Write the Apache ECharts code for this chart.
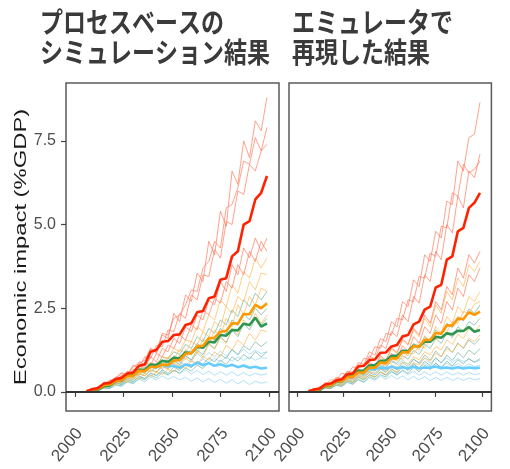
<!DOCTYPE html>
<html><head><meta charset="utf-8">
<script src="https://cdn.jsdelivr.net/npm/echarts@6/dist/echarts.min.js"></script>
<style>html,body{margin:0;padding:0;background:#fff}#c{width:510px;height:469px}</style>
</head><body><div id="c"></div>
<script>
// ---- data ----
const years = [2006,2009,2012,2015,2018,2021,2024,2027,2030,2033,2036,2039,2042,2045,2048,2051,2054,2057,2060,2063,2066,2069,2072,2075,2078,2081,2084,2087,2090,2093,2096,2099];
const xTicks = [2000, 2025, 2050, 2075, 2100];
const yTicks = [0, 2.5, 5, 7.5];
const titleSim = ['プロセスベースの', 'シミュレーション結果'];
const titleEmu = ['エミュレータで', '再現した結果'];
const yAxisTitle = 'Economic impact (%GDP)';

// Process-based simulation (left panel)
const simRed    = [0.02,0.08,0.12,0.25,0.27,0.38,0.42,0.55,0.58,0.78,0.82,1.2,1.25,1.5,1.52,1.7,1.72,2.0,2.05,2.38,2.42,2.8,2.85,3.35,3.4,4.05,4.2,5.0,5.1,5.75,5.95,6.45];
const simOrange = [0.02,0.07,0.09,0.2,0.22,0.33,0.35,0.48,0.48,0.63,0.62,0.75,0.74,0.82,0.8,0.94,0.95,1.14,1.16,1.36,1.38,1.6,1.62,1.8,1.82,2.05,2.04,2.33,2.32,2.6,2.5,2.65];
const simGreen  = [0.01,0.05,0.07,0.17,0.19,0.33,0.34,0.5,0.5,0.66,0.66,0.82,0.8,0.93,0.9,1.02,1.0,1.18,1.16,1.34,1.32,1.5,1.48,1.7,1.68,1.85,1.84,2.04,2.0,2.22,1.95,2.05];
const simBlue   = [0.01,0.05,0.07,0.18,0.2,0.34,0.35,0.5,0.5,0.65,0.64,0.76,0.74,0.82,0.76,0.78,0.72,0.82,0.78,0.87,0.8,0.86,0.78,0.83,0.76,0.81,0.74,0.79,0.72,0.75,0.7,0.72];
const simRedEns = [
  [0.03,0.12,0.1,0.3,0.25,0.45,0.42,0.62,0.55,0.9,0.82,1.3,1.15,1.7,1.6,2.35,2.1,2.9,2.7,3.55,3.3,4.5,4.1,5.4,4.95,6.6,6.2,7.5,7.0,8.1,7.8,8.8],
  [0.02,0.06,0.16,0.22,0.35,0.4,0.55,0.5,0.75,0.85,0.95,1.3,1.2,1.75,1.7,2.2,2.3,2.6,3.05,3.0,3.7,3.9,4.5,4.3,5.5,5.6,6.1,6.9,6.8,7.6,7.2,7.9],
  [0.01,0.08,0.12,0.25,0.3,0.42,0.58,0.5,0.8,0.72,1.05,1.0,1.4,1.35,1.85,1.8,2.35,2.2,2.9,2.75,3.5,3.45,4.25,4.0,5.1,5.0,6.0,5.9,6.8,6.6,7.2,7.4],
  [0.02,0.1,0.06,0.26,0.22,0.42,0.35,0.6,0.55,0.78,0.72,1.05,0.9,1.3,1.2,1.6,1.45,1.95,1.8,2.3,2.15,2.75,2.6,3.3,3.0,3.8,3.5,4.3,4.0,4.6,4.2,4.6],
  [0.03,0.05,0.14,0.15,0.34,0.3,0.5,0.45,0.68,0.62,0.88,0.8,1.15,1.05,1.4,1.3,1.7,1.55,2.0,1.85,2.45,2.3,2.8,2.65,3.3,3.1,3.8,3.5,4.2,3.9,4.5,4.2]
];
const simOrangeEns = [
  [0.02,0.08,0.08,0.24,0.22,0.4,0.36,0.55,0.5,0.7,0.62,0.88,0.8,1.05,1.0,1.3,1.2,1.55,1.5,1.95,1.8,2.3,2.15,2.75,2.55,3.2,2.95,3.6,3.4,4.0,3.7,4.0],
  [0.01,0.06,0.14,0.15,0.32,0.28,0.48,0.4,0.62,0.55,0.72,0.7,0.88,0.82,1.05,0.98,1.28,1.15,1.5,1.4,1.8,1.65,2.1,1.95,2.55,2.35,2.85,2.7,3.3,3.05,3.55,3.5],
  [0.02,0.04,0.12,0.12,0.28,0.22,0.42,0.34,0.55,0.48,0.68,0.6,0.78,0.7,0.95,0.82,1.1,0.98,1.3,1.15,1.6,1.4,1.85,1.65,2.2,1.95,2.6,2.3,2.85,2.6,3.1,3.0],
  [0.01,0.07,0.07,0.2,0.16,0.33,0.28,0.45,0.38,0.55,0.48,0.65,0.58,0.75,0.68,0.85,0.78,1.0,0.9,1.2,1.05,1.42,1.28,1.62,1.45,1.9,1.7,2.15,1.95,2.35,2.05,2.3],
  [0.02,0.03,0.1,0.1,0.24,0.2,0.35,0.28,0.44,0.38,0.55,0.45,0.6,0.52,0.68,0.6,0.8,0.7,0.92,0.82,1.05,0.95,1.2,1.05,1.4,1.25,1.55,1.4,1.75,1.55,1.85,1.8]
];
const simGreenEns = [
  [0.02,0.07,0.08,0.22,0.2,0.38,0.32,0.55,0.48,0.68,0.62,0.85,0.78,1.05,0.98,1.2,1.12,1.42,1.3,1.65,1.5,1.9,1.75,2.15,2.0,2.45,2.25,2.75,2.55,2.95,2.75,3.0],
  [0.01,0.04,0.1,0.18,0.18,0.34,0.28,0.48,0.42,0.62,0.55,0.76,0.68,0.92,0.82,1.08,0.98,1.25,1.12,1.45,1.32,1.65,1.55,1.9,1.72,2.15,1.98,2.35,2.15,2.5,2.3,2.5],
  [0.02,0.06,0.07,0.18,0.16,0.3,0.25,0.42,0.36,0.55,0.48,0.66,0.6,0.78,0.7,0.92,0.82,1.08,0.96,1.25,1.12,1.45,1.3,1.65,1.48,1.85,1.65,2.05,1.85,2.2,2.0,2.2],
  [0.01,0.05,0.04,0.15,0.14,0.26,0.22,0.36,0.3,0.46,0.4,0.56,0.5,0.66,0.56,0.74,0.64,0.82,0.72,0.92,0.82,1.02,0.9,1.12,1.0,1.28,1.12,1.38,1.25,1.5,1.35,1.5],
  [0.0,0.03,0.04,0.12,0.1,0.22,0.18,0.32,0.26,0.42,0.36,0.5,0.42,0.58,0.5,0.65,0.56,0.72,0.62,0.8,0.7,0.88,0.76,0.95,0.82,1.05,0.92,1.12,0.98,1.2,1.05,1.2]
];
const simBlueEns = [
  [0.02,0.08,0.08,0.24,0.2,0.38,0.32,0.52,0.48,0.68,0.58,0.82,0.75,0.95,0.85,1.02,0.9,1.08,0.95,1.15,1.0,1.18,1.05,1.22,1.08,1.25,1.1,1.28,1.12,1.25,1.15,1.2],
  [0.01,0.05,0.12,0.15,0.28,0.25,0.42,0.38,0.55,0.5,0.66,0.6,0.76,0.68,0.84,0.75,0.9,0.8,0.95,0.84,0.98,0.88,1.0,0.9,1.04,0.92,1.05,0.94,1.05,0.95,1.02,1.0],
  [0.0,0.04,0.05,0.16,0.14,0.28,0.22,0.38,0.32,0.48,0.4,0.55,0.48,0.62,0.52,0.65,0.55,0.66,0.54,0.64,0.52,0.62,0.5,0.6,0.5,0.6,0.48,0.58,0.48,0.56,0.5,0.55],
  [0.0,0.03,0.03,0.12,0.1,0.2,0.16,0.3,0.24,0.38,0.3,0.44,0.36,0.48,0.38,0.46,0.36,0.44,0.32,0.42,0.3,0.4,0.28,0.38,0.26,0.36,0.24,0.34,0.22,0.32,0.26,0.3]
];

// Emulator reproduction (right panel)
const emuRed    = [0.02,0.07,0.1,0.22,0.25,0.34,0.38,0.53,0.55,0.76,0.78,0.95,0.97,1.17,1.18,1.36,1.4,1.66,1.7,2.02,2.1,2.46,2.55,3.12,3.2,3.95,4.05,4.8,4.9,5.5,5.65,5.95];
const emuOrange = [0.01,0.06,0.08,0.2,0.2,0.33,0.32,0.45,0.45,0.58,0.58,0.73,0.72,0.88,0.86,1.01,1.0,1.19,1.18,1.36,1.36,1.56,1.55,1.76,1.74,1.99,1.98,2.19,2.18,2.38,2.3,2.4];
const emuGreen  = [0.01,0.05,0.06,0.18,0.19,0.31,0.32,0.47,0.48,0.63,0.64,0.79,0.8,0.93,0.94,1.08,1.08,1.23,1.22,1.38,1.36,1.5,1.5,1.65,1.62,1.75,1.72,1.83,1.82,1.94,1.8,1.85];
const emuBlue   = [0.01,0.05,0.06,0.18,0.2,0.34,0.35,0.48,0.48,0.6,0.6,0.69,0.68,0.73,0.7,0.75,0.71,0.74,0.7,0.75,0.7,0.73,0.72,0.76,0.71,0.73,0.7,0.74,0.7,0.73,0.71,0.72];
const emuRedEns = [
  [0.02,0.1,0.1,0.28,0.25,0.44,0.4,0.62,0.58,0.88,0.82,1.2,1.1,1.6,1.5,2.1,1.95,2.7,2.55,3.35,3.15,4.1,3.9,4.8,4.6,5.7,5.6,6.9,6.6,7.6,7.7,8.65],
  [0.03,0.05,0.16,0.2,0.36,0.35,0.56,0.52,0.75,0.72,1.0,0.98,1.35,1.3,1.75,1.7,2.2,2.15,2.75,2.7,3.45,3.4,4.15,4.05,4.95,4.9,5.95,5.85,6.8,6.55,6.65,6.9],
  [0.01,0.08,0.06,0.25,0.22,0.42,0.38,0.6,0.55,0.82,0.75,1.08,0.98,1.4,1.3,1.8,1.65,2.3,2.1,2.85,2.65,3.5,3.3,4.2,3.95,5.0,4.75,5.85,5.5,6.6,6.4,7.1],
  [0.02,0.07,0.08,0.22,0.18,0.38,0.32,0.52,0.45,0.68,0.6,0.88,0.78,1.08,0.95,1.32,1.18,1.58,1.42,1.9,1.7,2.3,2.05,2.7,2.45,3.15,2.9,3.7,3.4,4.1,3.85,4.2],
  [0.01,0.05,0.07,0.18,0.16,0.34,0.28,0.46,0.4,0.6,0.52,0.76,0.65,0.95,0.82,1.15,1.0,1.38,1.2,1.65,1.45,1.95,1.75,2.3,2.05,2.7,2.45,3.1,2.85,3.5,3.3,3.7]
];
const emuOrangeEns = [
  [0.01,0.08,0.06,0.22,0.2,0.38,0.32,0.53,0.46,0.68,0.6,0.84,0.75,1.04,0.92,1.28,1.15,1.55,1.4,1.85,1.65,2.2,1.95,2.6,2.35,3.0,2.75,3.4,3.15,3.8,3.6,3.9],
  [0.01,0.05,0.08,0.18,0.18,0.33,0.3,0.46,0.42,0.6,0.52,0.74,0.65,0.88,0.78,1.05,0.92,1.22,1.08,1.42,1.25,1.68,1.5,1.95,1.75,2.25,2.05,2.55,2.35,2.85,2.7,3.0],
  [0.02,0.04,0.1,0.14,0.24,0.26,0.36,0.36,0.5,0.48,0.6,0.6,0.74,0.72,0.86,0.85,1.0,0.98,1.16,1.14,1.36,1.32,1.56,1.55,1.82,1.78,2.1,2.05,2.4,2.35,2.62,2.7],
  [0.01,0.04,0.06,0.15,0.14,0.28,0.26,0.38,0.36,0.5,0.45,0.6,0.55,0.7,0.64,0.8,0.74,0.9,0.84,1.05,0.96,1.2,1.1,1.36,1.25,1.55,1.42,1.72,1.6,1.9,1.78,2.0],
  [0.0,0.03,0.05,0.12,0.12,0.23,0.2,0.33,0.28,0.43,0.38,0.5,0.45,0.6,0.52,0.68,0.6,0.78,0.7,0.88,0.8,1.02,0.92,1.15,1.05,1.3,1.18,1.45,1.32,1.6,1.5,1.7]
];
const emuGreenEns = [
  [0.01,0.07,0.07,0.2,0.2,0.34,0.32,0.48,0.44,0.64,0.58,0.8,0.72,0.95,0.86,1.1,1.0,1.26,1.16,1.45,1.32,1.65,1.5,1.85,1.7,2.05,1.92,2.25,2.12,2.48,2.35,2.6],
  [0.01,0.05,0.08,0.16,0.18,0.3,0.28,0.42,0.4,0.56,0.5,0.68,0.62,0.8,0.72,0.94,0.85,1.08,0.98,1.24,1.12,1.42,1.3,1.6,1.45,1.78,1.62,1.95,1.8,2.1,2.0,2.2],
  [0.0,0.05,0.05,0.16,0.14,0.28,0.24,0.38,0.32,0.48,0.42,0.58,0.5,0.68,0.58,0.78,0.66,0.88,0.76,0.98,0.86,1.1,0.95,1.22,1.05,1.36,1.18,1.46,1.3,1.55,1.42,1.6],
  [0.0,0.04,0.04,0.14,0.12,0.24,0.2,0.34,0.28,0.44,0.36,0.52,0.44,0.6,0.5,0.68,0.56,0.76,0.64,0.84,0.7,0.92,0.78,1.02,0.86,1.1,0.94,1.18,1.02,1.25,1.12,1.3],
  [0.0,0.03,0.04,0.12,0.1,0.2,0.17,0.3,0.24,0.38,0.3,0.46,0.38,0.52,0.44,0.6,0.5,0.66,0.55,0.74,0.6,0.8,0.66,0.86,0.72,0.92,0.78,0.96,0.84,1.0,0.88,1.0]
];
const emuBlueEns = [
  [0.01,0.07,0.06,0.2,0.18,0.35,0.3,0.5,0.42,0.64,0.55,0.76,0.66,0.85,0.75,0.92,0.8,0.96,0.82,0.98,0.85,1.0,0.86,1.0,0.88,1.02,0.88,1.0,0.9,0.98,0.9,0.95],
  [0.01,0.05,0.08,0.16,0.18,0.3,0.28,0.42,0.38,0.52,0.48,0.62,0.56,0.7,0.62,0.76,0.66,0.8,0.7,0.84,0.72,0.85,0.74,0.86,0.74,0.86,0.75,0.85,0.74,0.84,0.76,0.8],
  [0.0,0.04,0.05,0.14,0.12,0.25,0.2,0.35,0.28,0.44,0.36,0.52,0.44,0.58,0.5,0.62,0.52,0.62,0.52,0.62,0.5,0.6,0.5,0.6,0.5,0.6,0.5,0.58,0.5,0.58,0.52,0.55],
  [0.0,0.03,0.03,0.1,0.1,0.2,0.16,0.28,0.22,0.36,0.28,0.42,0.34,0.48,0.38,0.5,0.38,0.48,0.36,0.46,0.36,0.46,0.34,0.44,0.34,0.44,0.34,0.42,0.34,0.42,0.36,0.4]
];

// ---- chart ----
const COL = {
  redThin: '#ff7a5c', orangeThin: '#ffb347', greenThin: '#4f9e82', blueThin: '#8fd3f7',
  red: '#ff2200', orange: '#ff9900', green: '#2f9650', blue: '#66ccff'
};
const toPts = arr => arr.map((v, i) => [years[i], v]);
function line(p, arr, color, width, opacity) {
  return { type: 'line', xAxisIndex: p, yAxisIndex: p, data: toPts(arr), showSymbol: false, symbol: 'none',
    lineStyle: { color, width, opacity }, itemStyle: { color }, silent: true, animation: false };
}
function panelSeries(p, ens, main) {
  const s = [];
  s.push({ type: 'line', xAxisIndex: p, yAxisIndex: p, data: [], silent: true,
    markLine: { silent: true, symbol: 'none', label: { show: false }, animation: false,
      lineStyle: { color: '#333', width: 2.2, type: 'solid' }, data: [{ yAxis: 0 }] } });
  ens.blue.forEach(a => s.push(line(p, a, COL.blueThin, 1, 0.7)));
  ens.green.forEach(a => s.push(line(p, a, COL.greenThin, 1, 0.55)));
  ens.orange.forEach(a => s.push(line(p, a, COL.orangeThin, 1, 0.65)));
  ens.red.forEach(a => s.push(line(p, a, COL.redThin, 1, 0.7)));
  s.push(line(p, main.blue, COL.blue, 2.6, 1));
  s.push(line(p, main.green, COL.green, 2.6, 1));
  s.push(line(p, main.orange, COL.orange, 2.6, 1));
  s.push(line(p, main.red, COL.red, 2.6, 1));
  return s;
}
const series = [].concat(
  panelSeries(0, { red: simRedEns, orange: simOrangeEns, green: simGreenEns, blue: simBlueEns },
                 { red: simRed, orange: simOrange, green: simGreen, blue: simBlue }),
  panelSeries(1, { red: emuRedEns, orange: emuOrangeEns, green: emuGreenEns, blue: emuBlueEns },
                 { red: emuRed, orange: emuOrange, green: emuGreen, blue: emuBlue })
);

const gridBase = { top: 83, width: 213, height: 328, show: true, borderColor: '#5a5a5a', borderWidth: 1.5, backgroundColor: '#fff' };
const xAxisBase = {
  type: 'value', min: 1995.4, max: 2105.2, splitLine: { show: false }, axisLine: { show: false },
  axisTick: { show: true, customValues: xTicks, length: 5, lineStyle: { color: '#444', width: 1.2 } },
  axisLabel: { customValues: xTicks, rotate: 50, align: 'center', verticalAlign: 'middle', color: '#4d4d4d', fontSize: 17, margin: 25,
    fontFamily: 'Liberation Sans', formatter: v => String(Math.round(v)) + '     ' }
};
const yAxisBase = { type: 'value', min: -0.57, max: 9.23, splitLine: { show: false }, axisLine: { show: false } };
const titleFont = 'bold 23px "Noto Sans CJK JP"';
const txt = (text, x, y) => ({ type: 'text', x, y, scaleY: 1.22, silent: true,
  style: { text, font: titleFont, fill: '#3a3a3a', textAlign: 'left', align: 'left', textVerticalAlign: 'middle', verticalAlign: 'middle' } });

const option = {
  animation: false,
  backgroundColor: '#fff',
  grid: [Object.assign({ left: 66 }, gridBase), Object.assign({ left: 289 }, gridBase)],
  xAxis: [Object.assign({ gridIndex: 0 }, xAxisBase), Object.assign({ gridIndex: 1 }, xAxisBase)],
  yAxis: [
    Object.assign({ gridIndex: 0,
      axisTick: { show: true, customValues: yTicks, length: 5, lineStyle: { color: '#444', width: 1.2 } },
      axisLabel: { customValues: yTicks, color: '#4d4d4d', fontSize: 16, margin: 10, fontFamily: 'Liberation Sans',
        formatter: v => Number(v).toFixed(1) } }, yAxisBase),
    Object.assign({ gridIndex: 1, axisTick: { show: false }, axisLabel: { show: false } }, yAxisBase)
  ],
  graphic: [
    txt(titleSim[0], 40, 22), txt(titleSim[1], 40, 52),
    txt(titleEmu[0], 292, 22), txt(titleEmu[1], 292, 52),
    { type: 'text', x: 21, y: 247, rotation: Math.PI / 2, scaleX: 1.4, silent: true,
      style: { text: yAxisTitle, font: '17px "Liberation Sans"', fill: '#1a1a1a',
        textAlign: 'center', align: 'center', textVerticalAlign: 'middle', verticalAlign: 'middle' } }
  ],
  series
};
const chart = echarts.init(document.getElementById('c'), null, { renderer: 'canvas' });
chart.setOption(option);
</script>
</body></html>
